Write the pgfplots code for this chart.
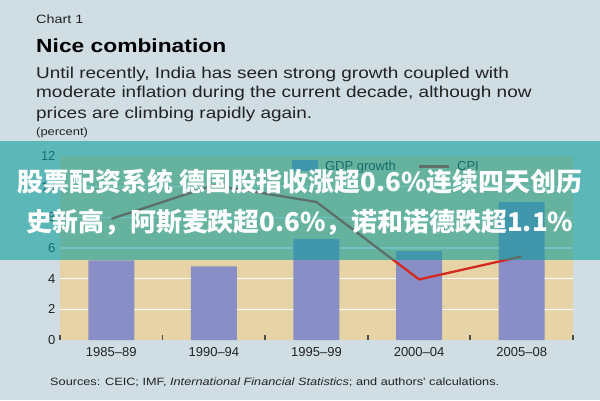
\documentclass[border=0pt]{standalone}
\usepackage{fontspec}
\setmainfont{Liberation Sans}
\newfontfamily\wide{Liberation Sans}[FakeStretch=1.2]
\newfontfamily\cjk{Noto Sans CJK SC}
\usepackage{pgfplots}
\pgfplotsset{compat=1.18}
\definecolor{bg}{HTML}{D0DEE4}
\definecolor{beige}{HTML}{E6D4A6}
\definecolor{barc}{HTML}{8A8EC6}
\definecolor{cpi}{HTML}{D22A1E}
\definecolor{band}{RGB}{15,158,155}
\definecolor{txt}{HTML}{222222}
\begin{document}
\begin{tikzpicture}[x=1pt,y=1pt]
\fill[bg] (0,0) rectangle (600,400);
\begin{axis}[
  at={(60pt,60pt)}, anchor=south west,
  scale only axis, width=513pt, height=184pt,
  xmin=-0.5, xmax=4.5, ymin=0, ymax=12,
  axis background/.style={fill=beige},
  axis line style={draw=none},
  xtick={0,1,2,3,4},
  xticklabels={1985--89,1990--94,1995--99,2000--04,2005--08},
  minor xtick={-0.5,0.5,1.5,2.5,3.5,4.5},
  xtick pos=bottom, ytick pos=left,
  tick align=inside,
  major tick length=0pt,
  minor tick length=5pt,
  minor tick style={line width=1.8pt, color=black!70},
  ytick={0,2,4,6,8,10,12},
  extra y ticks={2,4,6,8,10},
  extra y tick labels={},
  extra y tick style={grid=major},
  major grid style={white, line width=1.6pt},
  tick label style={font=\fontsize{13}{13}\selectfont, text=txt},
  /pgf/number format/assume math mode=true,
  yticklabel style={xshift=-1pt},
  xticklabel style={yshift=-4pt},
  legend style={draw=none, fill=none, at={(0.452,0.985)}, anchor=north west,
    legend columns=2, font=\fontsize{13}{13}\selectfont, text=txt,
    /tikz/every odd column/.append style={column sep=5pt},
    /tikz/every even column/.append style={column sep=20pt}, inner sep=0pt},
  legend cell align=left,
]
\addplot[ybar, bar width=46pt, fill=barc, draw=none,
  legend image code/.code={\fill[barc] (0pt,-5pt) rectangle (26pt,6pt);}]
  coordinates {(0,5.2) (1,4.8) (2,6.6) (3,5.8) (4,9.0)};
\addplot[cpi, line width=2.3pt, mark=none,
  legend image code/.code={\draw[cpi, line width=2.3pt] (0pt,0pt) -- (30pt,0pt);}]
  coordinates {(0,7.9) (1,10.1) (2,9.0) (3,3.95) (4,5.45)};
\legend{GDP growth, CPI}
\end{axis}
% overlay band
\fill[band, opacity=0.6] (0,140) rectangle (600,259);
\node[text=white, font=\cjk\bfseries\fontsize{25.9}{25.9}\selectfont] at (300,218) {股票配资系统 德国股指收涨超0.6\%连续四天创历};
\node[text=white, font=\cjk\bfseries\fontsize{25.9}{25.9}\selectfont] at (300,178) {史新高，阿斯麦跌超0.6\%，诺和诺德跌超1.1\%};
% titles
\node[anchor=base west, inner sep=0, text=txt, font=\wide\fontsize{12}{12}\selectfont] at (36,376) {Chart 1};
\node[anchor=base west, inner sep=0, text=black, font=\wide\bfseries\fontsize{19}{19}\selectfont] at (36,347) {Nice combination};
\node[anchor=base west, inner sep=0, text=txt, font=\wide\fontsize{15.8}{15.8}\selectfont] at (36,322) {Until recently, India has seen strong growth coupled with};
\node[anchor=base west, inner sep=0, text=txt, font=\wide\fontsize{15.8}{15.8}\selectfont] at (36,302) {moderate inflation during the current decade, although now};
\node[anchor=base west, inner sep=0, text=txt, font=\wide\fontsize{15.8}{15.8}\selectfont] at (36,282) {prices are climbing rapidly again.};
\node[anchor=base west, inner sep=0, text=txt, font=\wide\fontsize{10.8}{10.8}\selectfont] at (36,265) {(percent)};
\node[anchor=base west, inner sep=0, text=txt, font=\wide\fontsize{10.6}{10.6}\selectfont] at (50,15) {Sources: CEIC; IMF, \textit{International Financial Statistics}; and authors' calculations.};
\pgfresetboundingbox
\useasboundingbox (0,0) rectangle (600,400);
\end{tikzpicture}
\end{document}
